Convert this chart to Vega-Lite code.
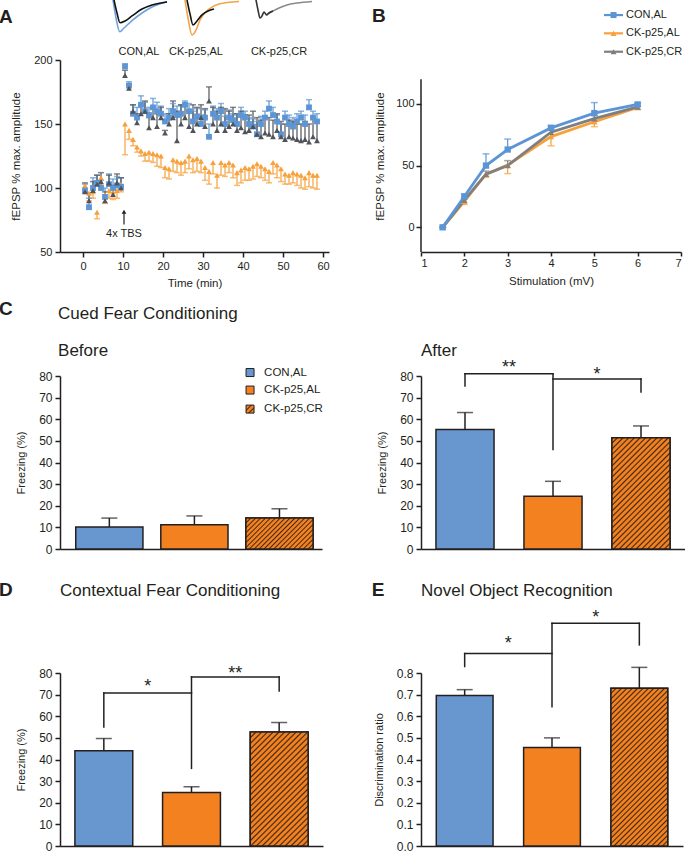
{
"$schema":"https://vega.github.io/schema/vega-lite/v6.json",
"background":"white",
"padding":{"top":-4,"left":-2,"right":0,"bottom":0},
"columns":2,
"bounds":"flush",
"align":"each",
"spacing":{"row":124,"column":92},
"resolve":{"scale":{"x":"independent","y":"independent","color":"independent","shape":"independent","stroke":"independent"},"legend":{"color":"independent","shape":"independent","stroke":"independent"}},
"config":{
 "view":{"stroke":null},
 "font":"Liberation Sans",
 "axis":{"domainColor":"#231f20","tickColor":"#231f20","labelColor":"#231f20","titleColor":"#231f20","domainWidth":1.5,"tickWidth":1.5,"grid":false,"titleFontWeight":"normal","labelFont":"Liberation Sans","titleFont":"Liberation Sans"},
 "text":{"color":"#231f20","font":"Liberation Sans"}
},
"concat":[
{
 "width":269,"height":192,
 "encoding":{
  "x":{"field":"t","type":"quantitative","scale":{"domain":[-5.75,61.5],"nice":false,"zero":false},"axis":{"title":"Time (min)","values":[0,10,20,30,40,50,60],"tickSize":5,"labelPadding":3,"labelFontSize":11,"titleFontSize":11.5,"titlePadding":6}},
  "y":{"field":"v","type":"quantitative","scale":{"domain":[50,200],"nice":false,"zero":false},"axis":{"title":"fEPSP % max. amplitude","values":[50,100,150,200],"tickSize":5,"labelPadding":3,"labelFontSize":11,"titleFontSize":11.5,"titlePadding":12}}
 },
 "layer":[
  {"data":{"values":[
{"s":"o","t":0.5,"v":102,"e":96},{"s":"o","t":1.5,"v":96,"e":90},{"s":"o","t":2.5,"v":97,"e":92},{"s":"o","t":3.5,"v":81,"e":76},{"s":"o","t":4.5,"v":108,"e":102},{"s":"o","t":5.5,"v":95,"e":88},{"s":"o","t":6.5,"v":98,"e":92},{"s":"o","t":7.5,"v":97,"e":91},{"s":"o","t":8.5,"v":98,"e":92},{"s":"o","t":9.5,"v":103,"e":97},
{"s":"o","t":10.5,"v":150,"e":126},{"s":"o","t":11.5,"v":145,"e":138},{"s":"o","t":12.5,"v":138,"e":133},{"s":"o","t":13.5,"v":132,"e":128},{"s":"o","t":14.5,"v":129,"e":125},{"s":"o","t":15.5,"v":127,"e":121},{"s":"o","t":16.5,"v":128,"e":121},{"s":"o","t":17.5,"v":127,"e":120},{"s":"o","t":18.5,"v":126,"e":117},{"s":"o","t":19.5,"v":125,"e":116},
{"s":"o","t":20.5,"v":116,"e":108},{"s":"o","t":21.5,"v":115,"e":107},{"s":"o","t":22.5,"v":122,"e":113},{"s":"o","t":23.5,"v":121,"e":112},{"s":"o","t":24.5,"v":120,"e":110},{"s":"o","t":25.5,"v":121,"e":112},{"s":"o","t":26.5,"v":125,"e":115},{"s":"o","t":27.5,"v":122,"e":112},{"s":"o","t":28.5,"v":123,"e":113},{"s":"o","t":29.5,"v":121,"e":112},
{"s":"o","t":30.5,"v":116,"e":106},{"s":"o","t":31.5,"v":113,"e":103},{"s":"o","t":32.5,"v":120,"e":111},{"s":"o","t":33.5,"v":110,"e":100},{"s":"o","t":34.5,"v":120,"e":110},{"s":"o","t":35.5,"v":118,"e":109},{"s":"o","t":36.5,"v":120,"e":112},{"s":"o","t":37.5,"v":118,"e":108},{"s":"o","t":38.5,"v":112,"e":102},{"s":"o","t":39.5,"v":114,"e":104},
{"s":"o","t":40.5,"v":116,"e":106},{"s":"o","t":41.5,"v":115,"e":106},{"s":"o","t":42.5,"v":117,"e":107},{"s":"o","t":43.5,"v":119,"e":109},{"s":"o","t":44.5,"v":117,"e":108},{"s":"o","t":45.5,"v":115,"e":106},{"s":"o","t":46.5,"v":113,"e":104},{"s":"o","t":47.5,"v":120,"e":111},{"s":"o","t":48.5,"v":118,"e":108},{"s":"o","t":49.5,"v":115,"e":105},
{"s":"o","t":50.5,"v":111,"e":103},{"s":"o","t":51.5,"v":110,"e":103},{"s":"o","t":52.5,"v":112,"e":104},{"s":"o","t":53.5,"v":111,"e":102},{"s":"o","t":54.5,"v":110,"e":100},{"s":"o","t":55.5,"v":108,"e":99},{"s":"o","t":56.5,"v":112,"e":101},{"s":"o","t":57.5,"v":110,"e":100},{"s":"o","t":58.5,"v":110,"e":99},
{"s":"b","t":0.5,"v":98,"e":103},{"s":"b","t":1.5,"v":85,"e":92},{"s":"b","t":2.5,"v":100,"e":108},{"s":"b","t":3.5,"v":104,"e":110},{"s":"b","t":4.5,"v":100,"e":106},{"s":"b","t":5.5,"v":93,"e":100},{"s":"b","t":6.5,"v":103,"e":111},{"s":"b","t":7.5,"v":100,"e":107},{"s":"b","t":8.5,"v":102,"e":109},{"s":"b","t":9.5,"v":101,"e":108},
{"s":"b","t":10.5,"v":195,"e":197},{"s":"b","t":11.5,"v":180,"e":183},{"s":"b","t":12.5,"v":158,"e":165},{"s":"b","t":13.5,"v":155,"e":163},{"s":"b","t":14.5,"v":165,"e":172},{"s":"b","t":15.5,"v":160,"e":167},{"s":"b","t":16.5,"v":157,"e":163},{"s":"b","t":17.5,"v":163,"e":170},{"s":"b","t":18.5,"v":160,"e":167},{"s":"b","t":19.5,"v":158,"e":164},
{"s":"b","t":20.5,"v":152,"e":158},{"s":"b","t":21.5,"v":155,"e":162},{"s":"b","t":22.5,"v":160,"e":166},{"s":"b","t":23.5,"v":157,"e":164},{"s":"b","t":24.5,"v":158,"e":165},{"s":"b","t":25.5,"v":165,"e":168},{"s":"b","t":26.5,"v":160,"e":166},{"s":"b","t":27.5,"v":152,"e":160},{"s":"b","t":28.5,"v":156,"e":162},{"s":"b","t":29.5,"v":150,"e":157},
{"s":"b","t":30.5,"v":155,"e":161},{"s":"b","t":31.5,"v":140,"e":150},{"s":"b","t":32.5,"v":158,"e":164},{"s":"b","t":33.5,"v":155,"e":162},{"s":"b","t":34.5,"v":160,"e":166},{"s":"b","t":35.5,"v":150,"e":156},{"s":"b","t":36.5,"v":155,"e":161},{"s":"b","t":37.5,"v":153,"e":158},{"s":"b","t":38.5,"v":150,"e":157},{"s":"b","t":39.5,"v":157,"e":163},
{"s":"b","t":40.5,"v":155,"e":160},{"s":"b","t":41.5,"v":150,"e":155},{"s":"b","t":42.5,"v":148,"e":154},{"s":"b","t":43.5,"v":142,"e":152},{"s":"b","t":44.5,"v":150,"e":156},{"s":"b","t":45.5,"v":155,"e":160},{"s":"b","t":46.5,"v":162,"e":168},{"s":"b","t":47.5,"v":157,"e":163},{"s":"b","t":48.5,"v":152,"e":157},{"s":"b","t":49.5,"v":142,"e":150},
{"s":"b","t":50.5,"v":155,"e":160},{"s":"b","t":51.5,"v":150,"e":157},{"s":"b","t":52.5,"v":148,"e":155},{"s":"b","t":53.5,"v":152,"e":158},{"s":"b","t":54.5,"v":155,"e":160},{"s":"b","t":55.5,"v":150,"e":157},{"s":"b","t":56.5,"v":163,"e":169},{"s":"b","t":57.5,"v":155,"e":160},{"s":"b","t":58.5,"v":152,"e":158},
{"s":"g","t":0.5,"v":97,"e":104},{"s":"g","t":1.5,"v":90,"e":96},{"s":"g","t":2.5,"v":98,"e":105},{"s":"g","t":3.5,"v":103,"e":110},{"s":"g","t":4.5,"v":105,"e":112},{"s":"g","t":5.5,"v":90,"e":97},{"s":"g","t":6.5,"v":104,"e":110},{"s":"g","t":7.5,"v":95,"e":102},{"s":"g","t":8.5,"v":104,"e":111},{"s":"g","t":9.5,"v":100,"e":108},
{"s":"g","t":10.5,"v":188,"e":192},{"s":"g","t":11.5,"v":178,"e":181},{"s":"g","t":12.5,"v":160,"e":165},{"s":"g","t":13.5,"v":151,"e":158},{"s":"g","t":14.5,"v":158,"e":165},{"s":"g","t":15.5,"v":160,"e":168},{"s":"g","t":16.5,"v":147,"e":155},{"s":"g","t":17.5,"v":155,"e":162},{"s":"g","t":18.5,"v":148,"e":158},{"s":"g","t":19.5,"v":155,"e":163},
{"s":"g","t":20.5,"v":143,"e":145},{"s":"g","t":21.5,"v":150,"e":158},{"s":"g","t":22.5,"v":155,"e":168},{"s":"g","t":23.5,"v":137,"e":160},{"s":"g","t":24.5,"v":150,"e":165},{"s":"g","t":25.5,"v":155,"e":164},{"s":"g","t":26.5,"v":148,"e":160},{"s":"g","t":27.5,"v":145,"e":165},{"s":"g","t":28.5,"v":150,"e":163},{"s":"g","t":29.5,"v":155,"e":165},
{"s":"g","t":30.5,"v":148,"e":162},{"s":"g","t":31.5,"v":168,"e":179},{"s":"g","t":32.5,"v":150,"e":163},{"s":"g","t":33.5,"v":145,"e":160},{"s":"g","t":34.5,"v":150,"e":163},{"s":"g","t":35.5,"v":145,"e":162},{"s":"g","t":36.5,"v":148,"e":160},{"s":"g","t":37.5,"v":150,"e":163},{"s":"g","t":38.5,"v":145,"e":158},{"s":"g","t":39.5,"v":147,"e":160},
{"s":"g","t":40.5,"v":144,"e":157},{"s":"g","t":41.5,"v":145,"e":157},{"s":"g","t":42.5,"v":148,"e":160},{"s":"g","t":43.5,"v":142,"e":155},{"s":"g","t":44.5,"v":140,"e":153},{"s":"g","t":45.5,"v":143,"e":156},{"s":"g","t":46.5,"v":142,"e":155},{"s":"g","t":47.5,"v":140,"e":153},{"s":"g","t":48.5,"v":145,"e":158},{"s":"g","t":49.5,"v":140,"e":152},
{"s":"g","t":50.5,"v":138,"e":150},{"s":"g","t":51.5,"v":140,"e":153},{"s":"g","t":52.5,"v":139,"e":152},{"s":"g","t":53.5,"v":138,"e":150},{"s":"g","t":54.5,"v":137,"e":150},{"s":"g","t":55.5,"v":138,"e":152},{"s":"g","t":56.5,"v":136,"e":150},{"s":"g","t":57.5,"v":140,"e":155},{"s":"g","t":58.5,"v":137,"e":152}
  ]},
   "encoding":{"color":{"field":"s","type":"nominal","scale":{"domain":["b","o","g"],"range":["#5b95d5","#f7a13c","#50545a"]},"legend":null}},
   "layer":[
    {"mark":{"type":"rule","strokeWidth":1.2},"encoding":{"y2":{"field":"e"}}},
    {"mark":{"type":"tick","orient":"horizontal","size":6,"thickness":1.5},"encoding":{"y":{"field":"e","type":"quantitative"}}},
    {"mark":{"type":"point","filled":true,"opacity":1,"size":34},"encoding":{"shape":{"field":"s","type":"nominal","scale":{"domain":["b","o","g"],"range":["square","triangle-up","triangle-up"]},"legend":null}}}
   ]},
  {"data":{"values":[
{"k":"cb","t":7.5,"v":246.9},{"k":"cb","t":8.25,"v":232.8},{"k":"cb","t":9.18,"v":222.1},{"k":"cb","t":10.25,"v":225},{"k":"cb","t":12.25,"v":230.7},{"k":"cb","t":14.75,"v":236.7},{"k":"cb","t":17.25,"v":241.4},{"k":"cb","t":21,"v":245.5},
{"k":"ck","t":7.75,"v":246.9},{"k":"ck","t":8.5,"v":236.7},{"k":"ck","t":9.25,"v":229.1},{"k":"ck","t":10.5,"v":230.5},{"k":"ck","t":12.25,"v":234.4},{"k":"ck","t":14.75,"v":239.8},{"k":"ck","t":17.25,"v":243},{"k":"ck","t":21,"v":245.3},
{"k":"ob","t":25.5,"v":246.9},{"k":"ob","t":26.25,"v":232.8},{"k":"ob","t":27.25,"v":219.5},{"k":"ob","t":28.25,"v":223.4},{"k":"ob","t":29.25,"v":231.3},{"k":"ob","t":31.5,"v":239.8},{"k":"ob","t":34,"v":243.8},{"k":"ob","t":39,"v":245.7},
{"k":"ok","t":26,"v":246.9},{"k":"ok","t":26.75,"v":236},{"k":"ok","t":27.5,"v":227.3},{"k":"ok","t":28.5,"v":230.5},{"k":"ok","t":29.75,"v":235.2},{"k":"ok","t":31.25,"v":238.3},{"k":"ok","t":32.75,"v":239.8},
{"k":"gg","t":46.5,"v":236.7},{"k":"gg","t":47.5,"v":238.3},{"k":"gg","t":49,"v":240.6},{"k":"gg","t":51,"v":243},{"k":"gg","t":53.5,"v":244.5},{"k":"gg","t":57.25,"v":245.7},
{"k":"gk","t":43.25,"v":246.9},{"k":"gk","t":43.75,"v":239.1},{"k":"gk","t":44.25,"v":232.8},{"k":"gk","t":44.75,"v":234.4},{"k":"gk","t":45.25,"v":237.5},{"k":"gk","t":45.875,"v":235.2},{"k":"gk","t":46.5,"v":236.7},{"k":"gk","t":47.5,"v":238.3}
  ]},
   "mark":{"type":"line","strokeWidth":1.6,"interpolate":"monotone"},
   "encoding":{"stroke":{"field":"k","type":"nominal","scale":{"domain":["cb","ck","ob","ok","gg","gk"],"range":["#6ea2dc","#111111","#f3a447","#111111","#8a8a8a","#333333"]},"legend":null}}},
  {"data":{"values":[{"txt":"CON,AL","t":14,"v":203.9},{"txt":"CK-p25,AL","t":28.25,"v":203.9},{"txt":"CK-p25,CR","t":49,"v":203.9},{"txt":"4x TBS","t":10.25,"v":62}]},
   "mark":{"type":"text","fontSize":11,"align":"center","baseline":"alphabetic"},"encoding":{"text":{"field":"txt"}}},
  {"data":{"values":[{"txt":"A","t":-21,"v":229.1}]},
   "mark":{"type":"text","fontSize":19,"fontWeight":"bold","align":"left","baseline":"alphabetic"},"encoding":{"text":{"field":"txt"}}},
  {"data":{"values":[{"t":10.25,"v":71.5,"v2":81}]},"mark":{"type":"rule","color":"#231f20","strokeWidth":1.2},"encoding":{"y2":{"field":"v2"}}},
  {"data":{"values":[{"t":10.25,"v":81.5}]},"mark":{"type":"point","shape":"triangle-up","filled":true,"color":"#231f20","size":22,"opacity":1}}
 ]
},
{
 "width":260,"height":192,
 "encoding":{
  "x":{"field":"t","type":"quantitative","scale":{"domain":[1,7],"nice":false,"zero":false},"axis":{"title":"Stimulation (mV)","values":[1,2,3,4,5,6,7],"tickSize":4,"labelPadding":1,"labelFontSize":11,"titleFontSize":11.5,"titlePadding":7}},
  "y":{"field":"v","type":"quantitative","scale":{"domain":[-20,135.5],"nice":false,"zero":false},"axis":{"title":"fEPSP % max. amplitude","values":[0,50,100],"domain":false,"tickSize":5,"labelPadding":2,"labelFontSize":11,"titleFontSize":11.5,"titlePadding":10}}
 },
 "layer":[
  {"data":{"values":[{"t":1,"v":-20,"v2":120}]},"mark":{"type":"rule","color":"#231f20","strokeWidth":1.5},"encoding":{"y2":{"field":"v2"}}},
  {"data":{"values":[
{"s":"o","t":1.5,"v":0,"e":0},{"s":"o","t":2,"v":21,"e":18.5},{"s":"o","t":2.5,"v":43,"e":40.5},{"s":"o","t":3,"v":50.5,"e":43.5},{"s":"o","t":4,"v":73.5,"e":66},{"s":"o","t":5,"v":85.5,"e":81.5},{"s":"o","t":6,"v":97,"e":95.5},
{"s":"g","t":1.5,"v":0,"e":0},{"s":"g","t":2,"v":22,"e":24},{"s":"g","t":2.5,"v":43,"e":45.5},{"s":"g","t":3,"v":50,"e":54},{"s":"g","t":4,"v":77,"e":79.5},{"s":"g","t":5,"v":88,"e":90.5},{"s":"g","t":6,"v":97.5,"e":98.5},
{"s":"b","t":1.5,"v":0,"e":0},{"s":"b","t":2,"v":25,"e":27},{"s":"b","t":2.5,"v":50,"e":59.5},{"s":"b","t":3,"v":63,"e":71.5},{"s":"b","t":4,"v":80.5,"e":82.5},{"s":"b","t":5,"v":92.5,"e":101},{"s":"b","t":6,"v":99.5,"e":100.5}
  ]},
   "encoding":{"color":{"field":"s","type":"nominal","scale":{"domain":["b","o","g"],"range":["#5b95d5","#f7a13c","#7f7f7f"]},"legend":null}},
   "layer":[
    {"mark":{"type":"rule","strokeWidth":1.2},"encoding":{"y2":{"field":"e"}}},
    {"mark":{"type":"tick","orient":"horizontal","size":7,"thickness":1.5},"encoding":{"y":{"field":"e","type":"quantitative"}}},
    {"mark":{"type":"line","strokeWidth":2.8},"encoding":{}},
    {"mark":{"type":"point","filled":true,"opacity":1,"size":40},"encoding":{"shape":{"field":"s","type":"nominal","scale":{"domain":["b","o","g"],"range":["square","triangle-up","triangle-up"]},"legend":null}}}
   ]},
  {"data":{"values":[{"s":"b","t":5.223,"t2":5.662,"v":171.9},{"s":"o","t":5.223,"t2":5.662,"v":157.1},{"s":"g","t":5.223,"t2":5.662,"v":142.2}]},
   "mark":{"type":"rule","strokeWidth":2.2},"encoding":{"x2":{"field":"t2"},"color":{"field":"s","type":"nominal","scale":{"domain":["b","o","g"],"range":["#5b95d5","#f7a13c","#7f7f7f"]},"legend":null}}},
  {"data":{"values":[{"s":"b","t":5.443,"v":171.9},{"s":"o","t":5.443,"v":157.1},{"s":"g","t":5.443,"v":142.2}]},
   "mark":{"type":"point","filled":true,"opacity":1,"size":36},"encoding":{"color":{"field":"s","type":"nominal","scale":{"domain":["b","o","g"],"range":["#5b95d5","#f7a13c","#7f7f7f"]},"legend":null},"shape":{"field":"s","type":"nominal","scale":{"domain":["b","o","g"],"range":["square","triangle-up","triangle-up"]},"legend":null}}},
  {"data":{"values":[{"lab":"CON,AL","t":5.731,"v":171.9},{"lab":"CK-p25,AL","t":5.731,"v":157.1},{"lab":"CK-p25,CR","t":5.731,"v":142.2}]},
   "mark":{"type":"text","fontSize":11,"align":"left","baseline":"middle"},"encoding":{"text":{"field":"lab"}}},
  {"data":{"values":[{"txt":"B","t":-0.131,"v":166.3}]},
   "mark":{"type":"text","fontSize":19,"fontWeight":"bold","align":"left","baseline":"alphabetic"},"encoding":{"text":{"field":"txt"}}}
 ]
},
{
 "width":262,"height":173,
 "encoding":{
  "x":{"field":"g","type":"nominal","scale":{"domain":["CON,AL","CK-p25,AL","CK-p25,CR"],"paddingInner":0,"paddingOuter":0.04,"align":1},"axis":{"title":null,"labels":false,"ticks":false}},
  "y":{"field":"v","type":"quantitative","scale":{"domain":[0,80],"nice":false},"axis":{"title":"Freezing (%)","values":[0,10,20,30,40,50,60,70,80],"tickSize":5,"labelPadding":3,"labelFontSize":12,"titleFontSize":11,"titlePadding":12}}
 },
 "layer":[
  {"data":{"values":[{"g":"CON,AL","v":10.2,"e":14.3},{"g":"CK-p25,AL","v":11.2,"e":15.3},{"g":"CK-p25,CR","v":14.3,"e":18.6}]},
   "layer":[
    {"mark":{"type":"bar","width":{"band":0.79},"stroke":"#231f20","strokeWidth":1.5},
     "encoding":{"color":{"field":"g","type":"nominal","legend":null,"scale":{"domain":["CON,AL","CK-p25,AL","CK-p25,CR"],"range":["#6897cf","#f48120","#f48120"]}}}},
    {"transform":[{"filter":"datum.g === 'CK-p25,CR'"}],
     "mark":{"type":"bar","width":{"band":0.79},"stroke":"#231f20","strokeWidth":1.5,
      "fill":{"gradient":"linear","x1":0,"y1":0,"x2":1.205,"y2":0.554,"stops":[
{"offset":0,"color":"#3d2817"},{"offset":0.014,"color":"#f48120"},{"offset":0.036,"color":"#f48120"},
{"offset":0.05,"color":"#3d2817"},{"offset":0.064,"color":"#f48120"},{"offset":0.086,"color":"#f48120"},
{"offset":0.1,"color":"#3d2817"},{"offset":0.114,"color":"#f48120"},{"offset":0.136,"color":"#f48120"},
{"offset":0.15,"color":"#3d2817"},{"offset":0.164,"color":"#f48120"},{"offset":0.186,"color":"#f48120"},
{"offset":0.2,"color":"#3d2817"},{"offset":0.214,"color":"#f48120"},{"offset":0.236,"color":"#f48120"},
{"offset":0.25,"color":"#3d2817"},{"offset":0.264,"color":"#f48120"},{"offset":0.286,"color":"#f48120"},
{"offset":0.3,"color":"#3d2817"},{"offset":0.314,"color":"#f48120"},{"offset":0.336,"color":"#f48120"},
{"offset":0.35,"color":"#3d2817"},{"offset":0.364,"color":"#f48120"},{"offset":0.386,"color":"#f48120"},
{"offset":0.4,"color":"#3d2817"},{"offset":0.414,"color":"#f48120"},{"offset":0.436,"color":"#f48120"},
{"offset":0.45,"color":"#3d2817"},{"offset":0.464,"color":"#f48120"},{"offset":0.486,"color":"#f48120"},
{"offset":0.5,"color":"#3d2817"},{"offset":0.514,"color":"#f48120"},{"offset":0.536,"color":"#f48120"},
{"offset":0.55,"color":"#3d2817"},{"offset":0.564,"color":"#f48120"},{"offset":0.586,"color":"#f48120"},
{"offset":0.6,"color":"#3d2817"},{"offset":0.614,"color":"#f48120"},{"offset":0.636,"color":"#f48120"},
{"offset":0.65,"color":"#3d2817"},{"offset":0.664,"color":"#f48120"},{"offset":0.686,"color":"#f48120"},
{"offset":0.7,"color":"#3d2817"},{"offset":0.714,"color":"#f48120"},{"offset":0.736,"color":"#f48120"},
{"offset":0.75,"color":"#3d2817"},{"offset":0.764,"color":"#f48120"},{"offset":0.786,"color":"#f48120"},
{"offset":0.8,"color":"#3d2817"},{"offset":0.814,"color":"#f48120"},{"offset":0.836,"color":"#f48120"},
{"offset":0.85,"color":"#3d2817"},{"offset":0.864,"color":"#f48120"},{"offset":0.886,"color":"#f48120"},
{"offset":0.9,"color":"#3d2817"},{"offset":0.914,"color":"#f48120"},{"offset":0.936,"color":"#f48120"},
{"offset":0.95,"color":"#3d2817"},{"offset":0.964,"color":"#f48120"},{"offset":0.986,"color":"#f48120"},
{"offset":1,"color":"#3d2817"}]}}},
    {"mark":{"type":"rule","color":"#231f20","strokeWidth":1.5},"encoding":{"y2":{"field":"e"}}},
    {"mark":{"type":"tick","orient":"horizontal","size":16,"thickness":1.5,"color":"#231f20"},"encoding":{"y":{"field":"e","type":"quantitative"}}}
   ]},
  {"encoding":{"x":{"field":"g","type":"nominal","bandPosition":0.154,"scale":{"domain":["CON,AL","CK-p25,AL","CK-p25,CR"],"paddingInner":0,"paddingOuter":0.04,"align":1},"axis":{"title":null,"labels":false,"ticks":false}}},
   "layer":[
    {"data":{"values":[{"g":"CK-p25,CR","v":81.6}]},"mark":{"type":"point","shape":"square","size":64,"filled":true,"opacity":1,"fill":"#6897cf","stroke":"#231f20","strokeWidth":1}},
    {"data":{"values":[{"g":"CK-p25,CR","v":73.5}]},"mark":{"type":"point","shape":"square","size":64,"filled":true,"opacity":1,"fill":"#f48120","stroke":"#231f20","strokeWidth":1}},
    {"data":{"values":[{"g":"CK-p25,CR","v":64.7}]},"mark":{"type":"point","shape":"square","size":64,"filled":true,"opacity":1,"stroke":"#231f20","strokeWidth":1,
      "fill":{"gradient":"linear","x1":0,"y1":0,"x2":1,"y2":1,"stops":[{"offset":0,"color":"#3d2817"},{"offset":0.09,"color":"#f48120"},{"offset":0.24,"color":"#f48120"},{"offset":0.333,"color":"#3d2817"},{"offset":0.42,"color":"#f48120"},{"offset":0.58,"color":"#f48120"},{"offset":0.667,"color":"#3d2817"},{"offset":0.76,"color":"#f48120"},{"offset":0.91,"color":"#f48120"},{"offset":1,"color":"#3d2817"}]}}}
   ]},
  {"data":{"values":[{"g":"CK-p25,CR","v":81.6,"txt":"CON,AL"},{"g":"CK-p25,CR","v":73.5,"txt":"CK-p25,AL"},{"g":"CK-p25,CR","v":64.7,"txt":"CK-p25,CR"}]},
   "mark":{"type":"text","fontSize":11.5,"align":"left","baseline":"middle"},
   "encoding":{"x":{"field":"g","type":"nominal","bandPosition":0.319,"scale":{"domain":["CON,AL","CK-p25,AL","CK-p25,CR"],"paddingInner":0,"paddingOuter":0.04,"align":1},"axis":{"title":null,"labels":false,"ticks":false}},"text":{"field":"txt"}}},
  {"data":{"values":[{"g":"CON,AL","v":108.2,"txt":"C"}]},
   "mark":{"type":"text","fontSize":19,"fontWeight":"bold","align":"left","baseline":"alphabetic"},
   "encoding":{"x":{"field":"g","type":"nominal","bandPosition":-0.797,"scale":{"domain":["CON,AL","CK-p25,AL","CK-p25,CR"],"paddingInner":0,"paddingOuter":0.04,"align":1},"axis":{"title":null,"labels":false,"ticks":false}},"text":{"field":"txt"}}},
  {"data":{"values":[{"g":"CON,AL","v":106.4,"txt":"Cued Fear Conditioning"},{"g":"CON,AL","v":89.2,"txt":"Before"}]},
   "mark":{"type":"text","fontSize":17,"align":"left","baseline":"alphabetic"},
   "encoding":{"x":{"field":"g","type":"nominal","bandPosition":-0.103,"scale":{"domain":["CON,AL","CK-p25,AL","CK-p25,CR"],"paddingInner":0,"paddingOuter":0.04,"align":1},"axis":{"title":null,"labels":false,"ticks":false}},"text":{"field":"txt"}}}
 ]
},
{
 "width":264,"height":173,
 "encoding":{
  "x":{"field":"g","type":"nominal","scale":{"domain":["CON,AL","CK-p25,AL","CK-p25,CR"],"paddingInner":0,"paddingOuter":0},"axis":{"title":null,"labels":false,"ticks":false}},
  "y":{"field":"v","type":"quantitative","scale":{"domain":[0,80],"nice":false},"axis":{"title":"Freezing (%)","values":[0,10,20,30,40,50,60,70,80],"tickSize":5,"labelPadding":3,"labelFontSize":12,"titleFontSize":11,"titlePadding":12}}
 },
 "layer":[
  {"data":{"values":[{"g":"CON,AL","v":55.3,"e":63.1},{"g":"CK-p25,AL","v":24.4,"e":31.3},{"g":"CK-p25,CR","v":51.5,"e":56.9}]},
   "layer":[
    {"mark":{"type":"bar","width":{"band":0.66},"stroke":"#231f20","strokeWidth":1.5},
     "encoding":{"color":{"field":"g","type":"nominal","legend":null,"scale":{"domain":["CON,AL","CK-p25,AL","CK-p25,CR"],"range":["#6897cf","#f48120","#f48120"]}}}},
    {"transform":[{"filter":"datum.g === 'CK-p25,CR'"}],
     "mark":{"type":"bar","width":{"band":0.66},"stroke":"#231f20","strokeWidth":1.5,
      "fill":{"gradient":"linear","x1":0,"y1":0,"x2":0.624,"y2":1.196,"stops":[
{"offset":0,"color":"#3d2817"},{"offset":0.0093,"color":"#f48120"},{"offset":0.024,"color":"#f48120"},
{"offset":0.0333,"color":"#3d2817"},{"offset":0.0426,"color":"#f48120"},{"offset":0.0573,"color":"#f48120"},
{"offset":0.0667,"color":"#3d2817"},{"offset":0.076,"color":"#f48120"},{"offset":0.0907,"color":"#f48120"},
{"offset":0.1,"color":"#3d2817"},{"offset":0.1093,"color":"#f48120"},{"offset":0.124,"color":"#f48120"},
{"offset":0.1333,"color":"#3d2817"},{"offset":0.1426,"color":"#f48120"},{"offset":0.1573,"color":"#f48120"},
{"offset":0.1667,"color":"#3d2817"},{"offset":0.176,"color":"#f48120"},{"offset":0.1907,"color":"#f48120"},
{"offset":0.2,"color":"#3d2817"},{"offset":0.2093,"color":"#f48120"},{"offset":0.224,"color":"#f48120"},
{"offset":0.2333,"color":"#3d2817"},{"offset":0.2426,"color":"#f48120"},{"offset":0.2573,"color":"#f48120"},
{"offset":0.2667,"color":"#3d2817"},{"offset":0.276,"color":"#f48120"},{"offset":0.2907,"color":"#f48120"},
{"offset":0.3,"color":"#3d2817"},{"offset":0.3093,"color":"#f48120"},{"offset":0.324,"color":"#f48120"},
{"offset":0.3333,"color":"#3d2817"},{"offset":0.3426,"color":"#f48120"},{"offset":0.3573,"color":"#f48120"},
{"offset":0.3667,"color":"#3d2817"},{"offset":0.376,"color":"#f48120"},{"offset":0.3907,"color":"#f48120"},
{"offset":0.4,"color":"#3d2817"},{"offset":0.4093,"color":"#f48120"},{"offset":0.424,"color":"#f48120"},
{"offset":0.4333,"color":"#3d2817"},{"offset":0.4426,"color":"#f48120"},{"offset":0.4573,"color":"#f48120"},
{"offset":0.4667,"color":"#3d2817"},{"offset":0.476,"color":"#f48120"},{"offset":0.4907,"color":"#f48120"},
{"offset":0.5,"color":"#3d2817"},{"offset":0.5093,"color":"#f48120"},{"offset":0.524,"color":"#f48120"},
{"offset":0.5333,"color":"#3d2817"},{"offset":0.5426,"color":"#f48120"},{"offset":0.5573,"color":"#f48120"},
{"offset":0.5667,"color":"#3d2817"},{"offset":0.576,"color":"#f48120"},{"offset":0.5907,"color":"#f48120"},
{"offset":0.6,"color":"#3d2817"},{"offset":0.6093,"color":"#f48120"},{"offset":0.624,"color":"#f48120"},
{"offset":0.6333,"color":"#3d2817"},{"offset":0.6426,"color":"#f48120"},{"offset":0.6573,"color":"#f48120"},
{"offset":0.6667,"color":"#3d2817"},{"offset":0.676,"color":"#f48120"},{"offset":0.6907,"color":"#f48120"},
{"offset":0.7,"color":"#3d2817"},{"offset":0.7093,"color":"#f48120"},{"offset":0.724,"color":"#f48120"},
{"offset":0.7333,"color":"#3d2817"},{"offset":0.7426,"color":"#f48120"},{"offset":0.7573,"color":"#f48120"},
{"offset":0.7667,"color":"#3d2817"},{"offset":0.776,"color":"#f48120"},{"offset":0.7907,"color":"#f48120"},
{"offset":0.8,"color":"#3d2817"},{"offset":0.8093,"color":"#f48120"},{"offset":0.824,"color":"#f48120"},
{"offset":0.8333,"color":"#3d2817"},{"offset":0.8426,"color":"#f48120"},{"offset":0.8573,"color":"#f48120"},
{"offset":0.8667,"color":"#3d2817"},{"offset":0.876,"color":"#f48120"},{"offset":0.8907,"color":"#f48120"},
{"offset":0.9,"color":"#3d2817"},{"offset":0.9093,"color":"#f48120"},{"offset":0.924,"color":"#f48120"},
{"offset":0.9333,"color":"#3d2817"},{"offset":0.9426,"color":"#f48120"},{"offset":0.9573,"color":"#f48120"},
{"offset":0.9667,"color":"#3d2817"},{"offset":0.976,"color":"#f48120"},{"offset":0.9907,"color":"#f48120"},
{"offset":1,"color":"#3d2817"}]}}},
    {"mark":{"type":"rule","color":"#231f20","strokeWidth":1.5},"encoding":{"y2":{"field":"e"}}},
    {"mark":{"type":"tick","orient":"horizontal","size":16,"thickness":1.5,"color":"#231f20"},"encoding":{"y":{"field":"e","type":"quantitative"}}}
   ]},
  {"data":{"values":[{"g":"CON,AL","v":75.4,"v2":81},{"g":"CK-p25,AL","v":46,"v2":81},{"g":"CK-p25,CR","v":72.6,"v2":78.6}]},
   "mark":{"type":"rule","color":"#231f20","strokeWidth":1.5,"strokeCap":"square"},"encoding":{"y2":{"field":"v2"}}},
  {"data":{"values":[{"g":"CON,AL","g2":"CK-p25,AL","v":81},{"g":"CK-p25,AL","g2":"CK-p25,CR","v":78.6}]},
   "mark":{"type":"rule","color":"#231f20","strokeWidth":1.5,"strokeCap":"square"},"encoding":{"x2":{"field":"g2"}}},
  {"data":{"values":[{"g":"CON,AL","v":81.6,"txt":"**"},{"g":"CK-p25,AL","v":78.0,"txt":"*"}]},
   "mark":{"type":"text","fontSize":18,"align":"center","baseline":"alphabetic"},
   "encoding":{"x":{"field":"g","type":"nominal","bandPosition":1,"scale":{"domain":["CON,AL","CK-p25,AL","CK-p25,CR"],"paddingInner":0,"paddingOuter":0},"axis":{"title":null,"labels":false,"ticks":false}},"text":{"field":"txt"}}},
  {"data":{"values":[{"g":"CON,AL","v":89.2,"txt":"After"}]},
   "mark":{"type":"text","fontSize":17,"align":"left","baseline":"alphabetic"},
   "encoding":{"x":{"field":"g","type":"nominal","bandPosition":0,"scale":{"domain":["CON,AL","CK-p25,AL","CK-p25,CR"],"paddingInner":0,"paddingOuter":0},"axis":{"title":null,"labels":false,"ticks":false}},"text":{"field":"txt"}}}
 ]
},
{
 "width":263,"height":173,
 "encoding":{
  "x":{"field":"g","type":"nominal","scale":{"domain":["CON,AL","CK-p25,AL","CK-p25,CR"],"paddingInner":0,"paddingOuter":0},"axis":{"title":null,"labels":false,"ticks":false}},
  "y":{"field":"v","type":"quantitative","scale":{"domain":[0,80],"nice":false},"axis":{"title":"Freezing (%)","values":[0,10,20,30,40,50,60,70,80],"tickSize":5,"labelPadding":3,"labelFontSize":12,"titleFontSize":11,"titlePadding":12}}
 },
 "layer":[
  {"data":{"values":[{"g":"CON,AL","v":44.0,"e":49.7},{"g":"CK-p25,AL","v":24.7,"e":27.4},{"g":"CK-p25,CR","v":52.7,"e":57.1}]},
   "layer":[
    {"mark":{"type":"bar","width":{"band":0.66},"stroke":"#231f20","strokeWidth":1.5},
     "encoding":{"color":{"field":"g","type":"nominal","legend":null,"scale":{"domain":["CON,AL","CK-p25,AL","CK-p25,CR"],"range":["#6897cf","#f48120","#f48120"]}}}},
    {"transform":[{"filter":"datum.g === 'CK-p25,CR'"}],
     "mark":{"type":"bar","width":{"band":0.66},"stroke":"#231f20","strokeWidth":1.5,
      "fill":{"gradient":"linear","x1":0,"y1":0,"x2":0.606,"y2":1.199,"stops":[
{"offset":0,"color":"#3d2817"},{"offset":0.0093,"color":"#f48120"},{"offset":0.024,"color":"#f48120"},
{"offset":0.0333,"color":"#3d2817"},{"offset":0.0426,"color":"#f48120"},{"offset":0.0573,"color":"#f48120"},
{"offset":0.0667,"color":"#3d2817"},{"offset":0.076,"color":"#f48120"},{"offset":0.0907,"color":"#f48120"},
{"offset":0.1,"color":"#3d2817"},{"offset":0.1093,"color":"#f48120"},{"offset":0.124,"color":"#f48120"},
{"offset":0.1333,"color":"#3d2817"},{"offset":0.1426,"color":"#f48120"},{"offset":0.1573,"color":"#f48120"},
{"offset":0.1667,"color":"#3d2817"},{"offset":0.176,"color":"#f48120"},{"offset":0.1907,"color":"#f48120"},
{"offset":0.2,"color":"#3d2817"},{"offset":0.2093,"color":"#f48120"},{"offset":0.224,"color":"#f48120"},
{"offset":0.2333,"color":"#3d2817"},{"offset":0.2426,"color":"#f48120"},{"offset":0.2573,"color":"#f48120"},
{"offset":0.2667,"color":"#3d2817"},{"offset":0.276,"color":"#f48120"},{"offset":0.2907,"color":"#f48120"},
{"offset":0.3,"color":"#3d2817"},{"offset":0.3093,"color":"#f48120"},{"offset":0.324,"color":"#f48120"},
{"offset":0.3333,"color":"#3d2817"},{"offset":0.3426,"color":"#f48120"},{"offset":0.3573,"color":"#f48120"},
{"offset":0.3667,"color":"#3d2817"},{"offset":0.376,"color":"#f48120"},{"offset":0.3907,"color":"#f48120"},
{"offset":0.4,"color":"#3d2817"},{"offset":0.4093,"color":"#f48120"},{"offset":0.424,"color":"#f48120"},
{"offset":0.4333,"color":"#3d2817"},{"offset":0.4426,"color":"#f48120"},{"offset":0.4573,"color":"#f48120"},
{"offset":0.4667,"color":"#3d2817"},{"offset":0.476,"color":"#f48120"},{"offset":0.4907,"color":"#f48120"},
{"offset":0.5,"color":"#3d2817"},{"offset":0.5093,"color":"#f48120"},{"offset":0.524,"color":"#f48120"},
{"offset":0.5333,"color":"#3d2817"},{"offset":0.5426,"color":"#f48120"},{"offset":0.5573,"color":"#f48120"},
{"offset":0.5667,"color":"#3d2817"},{"offset":0.576,"color":"#f48120"},{"offset":0.5907,"color":"#f48120"},
{"offset":0.6,"color":"#3d2817"},{"offset":0.6093,"color":"#f48120"},{"offset":0.624,"color":"#f48120"},
{"offset":0.6333,"color":"#3d2817"},{"offset":0.6426,"color":"#f48120"},{"offset":0.6573,"color":"#f48120"},
{"offset":0.6667,"color":"#3d2817"},{"offset":0.676,"color":"#f48120"},{"offset":0.6907,"color":"#f48120"},
{"offset":0.7,"color":"#3d2817"},{"offset":0.7093,"color":"#f48120"},{"offset":0.724,"color":"#f48120"},
{"offset":0.7333,"color":"#3d2817"},{"offset":0.7426,"color":"#f48120"},{"offset":0.7573,"color":"#f48120"},
{"offset":0.7667,"color":"#3d2817"},{"offset":0.776,"color":"#f48120"},{"offset":0.7907,"color":"#f48120"},
{"offset":0.8,"color":"#3d2817"},{"offset":0.8093,"color":"#f48120"},{"offset":0.824,"color":"#f48120"},
{"offset":0.8333,"color":"#3d2817"},{"offset":0.8426,"color":"#f48120"},{"offset":0.8573,"color":"#f48120"},
{"offset":0.8667,"color":"#3d2817"},{"offset":0.876,"color":"#f48120"},{"offset":0.8907,"color":"#f48120"},
{"offset":0.9,"color":"#3d2817"},{"offset":0.9093,"color":"#f48120"},{"offset":0.924,"color":"#f48120"},
{"offset":0.9333,"color":"#3d2817"},{"offset":0.9426,"color":"#f48120"},{"offset":0.9573,"color":"#f48120"},
{"offset":0.9667,"color":"#3d2817"},{"offset":0.976,"color":"#f48120"},{"offset":0.9907,"color":"#f48120"},
{"offset":1,"color":"#3d2817"}]}}},
    {"mark":{"type":"rule","color":"#231f20","strokeWidth":1.5},"encoding":{"y2":{"field":"e"}}},
    {"mark":{"type":"tick","orient":"horizontal","size":16,"thickness":1.5,"color":"#231f20"},"encoding":{"y":{"field":"e","type":"quantitative"}}}
   ]},
  {"data":{"values":[{"g":"CON,AL","v":55,"v2":70.8},{"g":"CK-p25,AL","v":35.9,"v2":78.2},{"g":"CK-p25,CR","v":71.7,"v2":78.2}]},
   "mark":{"type":"rule","color":"#231f20","strokeWidth":1.5,"strokeCap":"square"},"encoding":{"y2":{"field":"v2"}}},
  {"data":{"values":[{"g":"CON,AL","g2":"CK-p25,AL","v":70.8},{"g":"CK-p25,AL","g2":"CK-p25,CR","v":78.2}]},
   "mark":{"type":"rule","color":"#231f20","strokeWidth":1.5,"strokeCap":"square"},"encoding":{"x2":{"field":"g2"}}},
  {"data":{"values":[{"g":"CON,AL","v":71.1,"txt":"*"},{"g":"CK-p25,AL","v":77.2,"txt":"**"}]},
   "mark":{"type":"text","fontSize":18,"align":"center","baseline":"alphabetic"},
   "encoding":{"x":{"field":"g","type":"nominal","bandPosition":1,"scale":{"domain":["CON,AL","CK-p25,AL","CK-p25,CR"],"paddingInner":0,"paddingOuter":0},"axis":{"title":null,"labels":false,"ticks":false}},"text":{"field":"txt"}}},
  {"data":{"values":[{"g":"CON,AL","v":115.4,"txt":"D"}]},
   "mark":{"type":"text","fontSize":19,"fontWeight":"bold","align":"left","baseline":"alphabetic"},
   "encoding":{"x":{"field":"g","type":"nominal","bandPosition":-0.696,"scale":{"domain":["CON,AL","CK-p25,AL","CK-p25,CR"],"paddingInner":0,"paddingOuter":0},"axis":{"title":null,"labels":false,"ticks":false}},"text":{"field":"txt"}}},
  {"data":{"values":[{"g":"CON,AL","v":115.4,"txt":"Contextual Fear Conditioning"}]},
   "mark":{"type":"text","fontSize":17,"align":"left","baseline":"alphabetic"},
   "encoding":{"x":{"field":"g","type":"nominal","bandPosition":0,"scale":{"domain":["CON,AL","CK-p25,AL","CK-p25,CR"],"paddingInner":0,"paddingOuter":0},"axis":{"title":null,"labels":false,"ticks":false}},"text":{"field":"txt"}}}
 ]
},
{
 "width":262,"height":173,
 "encoding":{
  "x":{"field":"g","type":"nominal","scale":{"domain":["CON,AL","CK-p25,AL","CK-p25,CR"],"paddingInner":0,"paddingOuter":0},"axis":{"title":null,"labels":false,"ticks":false}},
  "y":{"field":"v","type":"quantitative","scale":{"domain":[0,0.8],"nice":false},"axis":{"title":"Discrimination ratio","values":[0,0.1,0.2,0.3,0.4,0.5,0.6,0.7,0.8],"format":".1f","tickSize":5,"labelPadding":3,"labelFontSize":12,"titleFontSize":11,"titlePadding":12}}
 },
 "layer":[
  {"data":{"values":[{"g":"CON,AL","v":0.696,"e":0.723},{"g":"CK-p25,AL","v":0.455,"e":0.50},{"g":"CK-p25,CR","v":0.73,"e":0.826}]},
   "layer":[
    {"mark":{"type":"bar","width":{"band":0.65},"stroke":"#231f20","strokeWidth":1.5},
     "encoding":{"color":{"field":"g","type":"nominal","legend":null,"scale":{"domain":["CON,AL","CK-p25,AL","CK-p25,CR"],"range":["#6897cf","#f48120","#f48120"]}}}},
    {"transform":[{"filter":"datum.g === 'CK-p25,CR'"}],
     "mark":{"type":"bar","width":{"band":0.65},"stroke":"#231f20","strokeWidth":1.5,
      "fill":{"gradient":"linear","x1":0,"y1":0,"x2":0.431,"y2":1.204,"stops":[
{"offset":0,"color":"#3d2817"},{"offset":0.007,"color":"#f48120"},{"offset":0.018,"color":"#f48120"},
{"offset":0.025,"color":"#3d2817"},{"offset":0.032,"color":"#f48120"},{"offset":0.043,"color":"#f48120"},
{"offset":0.05,"color":"#3d2817"},{"offset":0.057,"color":"#f48120"},{"offset":0.068,"color":"#f48120"},
{"offset":0.075,"color":"#3d2817"},{"offset":0.082,"color":"#f48120"},{"offset":0.093,"color":"#f48120"},
{"offset":0.1,"color":"#3d2817"},{"offset":0.107,"color":"#f48120"},{"offset":0.118,"color":"#f48120"},
{"offset":0.125,"color":"#3d2817"},{"offset":0.132,"color":"#f48120"},{"offset":0.143,"color":"#f48120"},
{"offset":0.15,"color":"#3d2817"},{"offset":0.157,"color":"#f48120"},{"offset":0.168,"color":"#f48120"},
{"offset":0.175,"color":"#3d2817"},{"offset":0.182,"color":"#f48120"},{"offset":0.193,"color":"#f48120"},
{"offset":0.2,"color":"#3d2817"},{"offset":0.207,"color":"#f48120"},{"offset":0.218,"color":"#f48120"},
{"offset":0.225,"color":"#3d2817"},{"offset":0.232,"color":"#f48120"},{"offset":0.243,"color":"#f48120"},
{"offset":0.25,"color":"#3d2817"},{"offset":0.257,"color":"#f48120"},{"offset":0.268,"color":"#f48120"},
{"offset":0.275,"color":"#3d2817"},{"offset":0.282,"color":"#f48120"},{"offset":0.293,"color":"#f48120"},
{"offset":0.3,"color":"#3d2817"},{"offset":0.307,"color":"#f48120"},{"offset":0.318,"color":"#f48120"},
{"offset":0.325,"color":"#3d2817"},{"offset":0.332,"color":"#f48120"},{"offset":0.343,"color":"#f48120"},
{"offset":0.35,"color":"#3d2817"},{"offset":0.357,"color":"#f48120"},{"offset":0.368,"color":"#f48120"},
{"offset":0.375,"color":"#3d2817"},{"offset":0.382,"color":"#f48120"},{"offset":0.393,"color":"#f48120"},
{"offset":0.4,"color":"#3d2817"},{"offset":0.407,"color":"#f48120"},{"offset":0.418,"color":"#f48120"},
{"offset":0.425,"color":"#3d2817"},{"offset":0.432,"color":"#f48120"},{"offset":0.443,"color":"#f48120"},
{"offset":0.45,"color":"#3d2817"},{"offset":0.457,"color":"#f48120"},{"offset":0.468,"color":"#f48120"},
{"offset":0.475,"color":"#3d2817"},{"offset":0.482,"color":"#f48120"},{"offset":0.493,"color":"#f48120"},
{"offset":0.5,"color":"#3d2817"},{"offset":0.507,"color":"#f48120"},{"offset":0.518,"color":"#f48120"},
{"offset":0.525,"color":"#3d2817"},{"offset":0.532,"color":"#f48120"},{"offset":0.543,"color":"#f48120"},
{"offset":0.55,"color":"#3d2817"},{"offset":0.557,"color":"#f48120"},{"offset":0.568,"color":"#f48120"},
{"offset":0.575,"color":"#3d2817"},{"offset":0.582,"color":"#f48120"},{"offset":0.593,"color":"#f48120"},
{"offset":0.6,"color":"#3d2817"},{"offset":0.607,"color":"#f48120"},{"offset":0.618,"color":"#f48120"},
{"offset":0.625,"color":"#3d2817"},{"offset":0.632,"color":"#f48120"},{"offset":0.643,"color":"#f48120"},
{"offset":0.65,"color":"#3d2817"},{"offset":0.657,"color":"#f48120"},{"offset":0.668,"color":"#f48120"},
{"offset":0.675,"color":"#3d2817"},{"offset":0.682,"color":"#f48120"},{"offset":0.693,"color":"#f48120"},
{"offset":0.7,"color":"#3d2817"},{"offset":0.707,"color":"#f48120"},{"offset":0.718,"color":"#f48120"},
{"offset":0.725,"color":"#3d2817"},{"offset":0.732,"color":"#f48120"},{"offset":0.743,"color":"#f48120"},
{"offset":0.75,"color":"#3d2817"},{"offset":0.757,"color":"#f48120"},{"offset":0.768,"color":"#f48120"},
{"offset":0.775,"color":"#3d2817"},{"offset":0.782,"color":"#f48120"},{"offset":0.793,"color":"#f48120"},
{"offset":0.8,"color":"#3d2817"},{"offset":0.807,"color":"#f48120"},{"offset":0.818,"color":"#f48120"},
{"offset":0.825,"color":"#3d2817"},{"offset":0.832,"color":"#f48120"},{"offset":0.843,"color":"#f48120"},
{"offset":0.85,"color":"#3d2817"},{"offset":0.857,"color":"#f48120"},{"offset":0.868,"color":"#f48120"},
{"offset":0.875,"color":"#3d2817"},{"offset":0.882,"color":"#f48120"},{"offset":0.893,"color":"#f48120"},
{"offset":0.9,"color":"#3d2817"},{"offset":0.907,"color":"#f48120"},{"offset":0.918,"color":"#f48120"},
{"offset":0.925,"color":"#3d2817"},{"offset":0.932,"color":"#f48120"},{"offset":0.943,"color":"#f48120"},
{"offset":0.95,"color":"#3d2817"},{"offset":0.957,"color":"#f48120"},{"offset":0.968,"color":"#f48120"},
{"offset":0.975,"color":"#3d2817"},{"offset":0.982,"color":"#f48120"},{"offset":0.993,"color":"#f48120"},
{"offset":1,"color":"#3d2817"}]}}},
    {"mark":{"type":"rule","color":"#231f20","strokeWidth":1.5},"encoding":{"y2":{"field":"e"}}},
    {"mark":{"type":"tick","orient":"horizontal","size":16,"thickness":1.5,"color":"#231f20"},"encoding":{"y":{"field":"e","type":"quantitative"}}}
   ]},
  {"data":{"values":[{"g":"CON,AL","v":0.83,"v2":0.89},{"g":"CK-p25,AL","v":0.644,"v2":1.03},{"g":"CK-p25,CR","v":0.93,"v2":1.03}]},
   "mark":{"type":"rule","color":"#231f20","strokeWidth":1.5,"strokeCap":"square"},"encoding":{"y2":{"field":"v2"}}},
  {"data":{"values":[{"g":"CON,AL","g2":"CK-p25,AL","v":0.89},{"g":"CK-p25,AL","g2":"CK-p25,CR","v":1.03}]},
   "mark":{"type":"rule","color":"#231f20","strokeWidth":1.5,"strokeCap":"square"},"encoding":{"x2":{"field":"g2"}}},
  {"data":{"values":[{"g":"CON,AL","v":0.912,"txt":"*"},{"g":"CK-p25,AL","v":1.032,"txt":"*"}]},
   "mark":{"type":"text","fontSize":18,"align":"center","baseline":"alphabetic"},
   "encoding":{"x":{"field":"g","type":"nominal","bandPosition":1,"scale":{"domain":["CON,AL","CK-p25,AL","CK-p25,CR"],"paddingInner":0,"paddingOuter":0},"axis":{"title":null,"labels":false,"ticks":false}},"text":{"field":"txt"}}},
  {"data":{"values":[{"g":"CON,AL","v":1.154,"txt":"E"}]},
   "mark":{"type":"text","fontSize":19,"fontWeight":"bold","align":"left","baseline":"alphabetic"},
   "encoding":{"x":{"field":"g","type":"nominal","bandPosition":-0.565,"scale":{"domain":["CON,AL","CK-p25,AL","CK-p25,CR"],"paddingInner":0,"paddingOuter":0},"axis":{"title":null,"labels":false,"ticks":false}},"text":{"field":"txt"}}},
  {"data":{"values":[{"g":"CON,AL","v":1.154,"txt":"Novel Object Recognition"}]},
   "mark":{"type":"text","fontSize":17,"align":"left","baseline":"alphabetic"},
   "encoding":{"x":{"field":"g","type":"nominal","bandPosition":0,"scale":{"domain":["CON,AL","CK-p25,AL","CK-p25,CR"],"paddingInner":0,"paddingOuter":0},"axis":{"title":null,"labels":false,"ticks":false}},"text":{"field":"txt"}}}
 ]
}
]
}
